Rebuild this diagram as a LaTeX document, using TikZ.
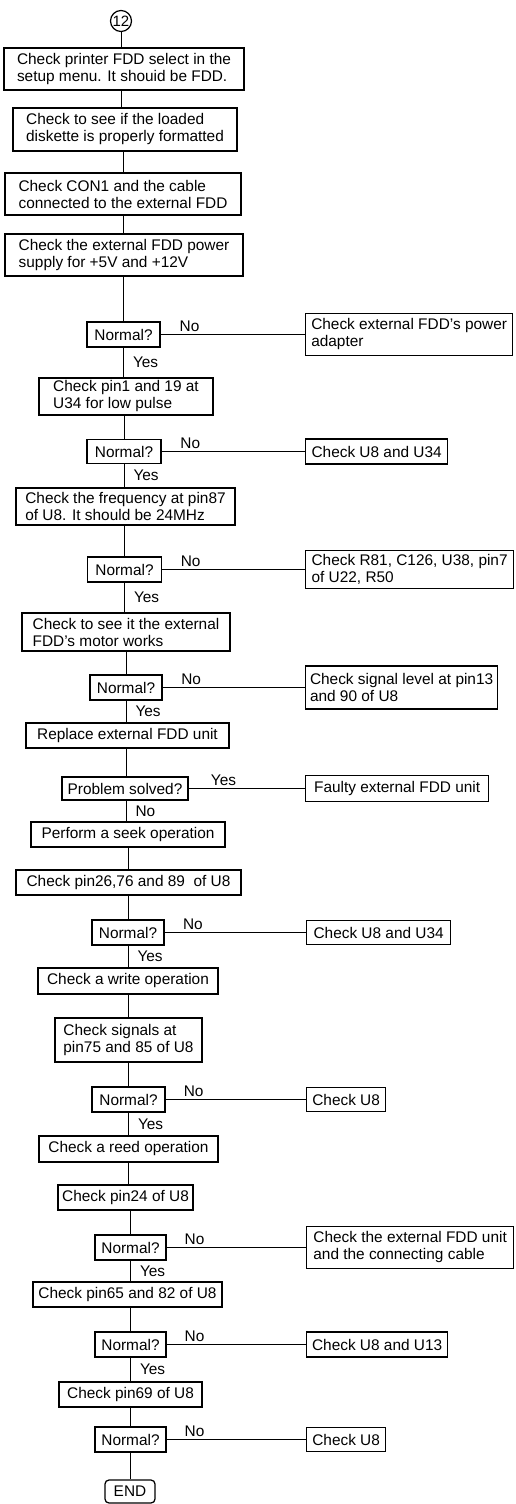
\documentclass[tikz,border=0pt]{standalone}
\usepackage{fontspec}
\setmainfont{Liberation Sans}
\newcommand\bodyfont{\fontsize{15.4}{17}\selectfont}
\begin{document}
\begin{tikzpicture}[x=1pt,y=-1pt,
  bx/.style={draw, line width=1.25pt, inner xsep=4pt, inner ysep=1pt, align=left, font=\bodyfont},
  dec/.style={bx, align=center},
  rbx/.style={bx, anchor=west},
  lbl/.style={inner sep=1pt, font=\bodyfont},
  conn/.style={line width=1pt},
  bs/.style 2 args={minimum width=#1pt, minimum height=#2pt}]
\useasboundingbox (0,0) rectangle (515,1504);
\fill[white] (0,0) rectangle (515,1504);

\node[draw, circle, line width=1.2pt, minimum size=21pt, inner sep=0pt, font=\fontsize{15}{15}\selectfont] (c12) at (121,21) {12};

\node[bx, bs={240}{42}] (b1) at (124,69) {Check printer FDD select in the\\setup menu. It shouid be FDD.};
\node[bx, bs={224}{43}] (b2) at (125,129.5) {Check to see if the loaded\\diskette is properly formatted};
\node[bx, bs={236}{42}] (b3) at (123,194) {Check CON1 and the cable\\connected to the external FDD};
\node[bx, bs={238}{42}] (b4) at (124,255) {Check the external FDD power\\supply for +5V and +12V};
\node[dec, bs={73}{25}] (N1) at (123.5,334.5) {Normal?};
\node[rbx, bs={207}{42}] (R1) at (305,334.5) {Check external FDD's power\\adapter};
\node[bx, bs={174}{37}] (b5) at (126,396.5) {Check pin1 and 19 at\\U34 for low pulse};
\node[dec, bs={74}{24}] (N2) at (124,451.5) {Normal?};
\node[rbx, bs={142}{25}] (R2) at (305,451.5) {Check U8 and U34};
\node[bx, bs={219}{37}] (b6) at (125.5,506.5) {Check the frequency at pin87\\of U8. It should be 24MHz};
\node[dec, bs={74}{25}] (N3) at (124.5,569.5) {Normal?};
\node[rbx, bs={208}{38}] (R3) at (305,569.5) {Check R81, C126, U38, pin7\\of U22, R50};
\node[bx, bs={208}{38}] (b7) at (126,632) {Check to see it the external\\FDD's motor works};
\node[dec, bs={72}{25}] (N4) at (126,687.5) {Normal?};
\node[rbx, bs={192}{43}] (R4) at (305,687.5) {Check signal level at pin13\\and 90 of U8};
\node[dec, bs={203}{25}] (b8) at (127.5,735.5) {Replace external FDD unit};
\node[dec, bs={126}{23}] (PS) at (125,788.5) {Problem solved?};
\node[rbx, bs={183}{26}] (R5) at (305,788.5) {Faulty external FDD unit};
\node[dec, bs={194}{25}] (b9) at (128,834.5) {Perform a seek operation};
\node[dec, bs={225}{25}] (b10) at (128.5,882.5) {Check pin26,76 and 89\ \ of U8};
\node[dec, bs={72}{25}] (N5) at (128,932.5) {Normal?};
\node[rbx, bs={144}{24}] (R6) at (306,932.5) {Check U8 and U34};
\node[dec, bs={180}{26}] (b11) at (128,981) {Check a write operation};
\node[bx, bs={147}{44}] (b12) at (128.5,1040) {Check signals at\\pin75 and 85 of U8};
\node[dec, bs={73}{25}] (N6) at (128.5,1099.5) {Normal?};
\node[rbx, bs={79}{24}] (R7) at (306,1099.5) {Check U8};
\node[dec, bs={179}{26}] (b13) at (128.5,1149) {Check a reed operation};
\node[dec, bs={135}{25}] (b14) at (125.5,1197.5) {Check pin24 of U8};
\node[dec, bs={71}{25}] (N7) at (130.5,1247.5) {Normal?};
\node[rbx, bs={207}{42}] (R8) at (306,1247.5) {Check the external FDD unit\\and the connecting cable};
\node[dec, bs={189}{25}] (b15) at (127.5,1294.5) {Check pin65 and 82 of U8};
\node[dec, bs={71}{25}] (N8) at (130.5,1344.5) {Normal?};
\node[rbx, bs={141}{25}] (R9) at (306,1344.5) {Check U8 and U13};
\node[dec, bs={143}{25}] (b16) at (130.5,1394.5) {Check pin69 of U8};
\node[dec, bs={71}{25}] (N9) at (130.5,1439.5) {Normal?};
\node[rbx, bs={79}{24}] (R10) at (306,1439.5) {Check U8};
\node[dec, bs={50}{23}, rounded corners=4pt] (END) at (130,1491.5) {END};

% vertical connectors
\draw[conn] (c12.south) -- (c12.south |- b1.north);
\draw[conn] (b1.south -| c12) -- (b2.north -| c12);
\draw[conn] (b2.south -| N1) -- (b3.north -| N1);
\draw[conn] (b3.south -| N1) -- (b4.north -| N1);
\draw[conn] (b4.south -| N1) -- (N1.north);
\draw[conn] (N1.south) -- (N1.south |- b5.north) node[lbl, midway, right=8pt] {Yes};
\draw[conn] (b5.south -| N2) -- (N2.north);
\draw[conn] (N2.south) -- (N2.south |- b6.north) node[lbl, midway, right=8pt] {Yes};
\draw[conn] (b6.south -| N3) -- (N3.north);
\draw[conn] (N3.south) -- (N3.south |- b7.north) node[lbl, midway, right=8pt] {Yes};
\draw[conn] (b7.south -| N4) -- (N4.north);
\draw[conn] (N4.south) -- (N4.south |- b8.north) node[lbl, midway, right=8pt] {Yes};
\draw[conn] (b8.south -| N4) -- (PS.north -| N4);
\draw[conn] (PS.south -| N4) -- (b9.north -| N4) node[lbl, midway, right=8pt] {No};
\draw[conn] (b9.south -| N5) -- (b10.north -| N5);
\draw[conn] (b10.south -| N5) -- (N5.north);
\draw[conn] (N5.south) -- (N5.south |- b11.north) node[lbl, midway, right=8pt] {Yes};
\draw[conn] (b11.south -| N5) -- (b12.north -| N5);
\draw[conn] (b12.south -| N6) -- (N6.north);
\draw[conn] (N6.south) -- (N6.south |- b13.north) node[lbl, midway, right=8pt] {Yes};
\draw[conn] (b13.south -| N6) -- (b14.north -| N6);
\draw[conn] (b14.south -| N7) -- (N7.north);
\draw[conn] (N7.south) -- (N7.south |- b15.north) node[lbl, midway, right=8pt] {Yes};
\draw[conn] (b15.south -| N8) -- (N8.north);
\draw[conn] (N8.south) -- (N8.south |- b16.north) node[lbl, midway, right=8pt] {Yes};
\draw[conn] (b16.south -| N9) -- (N9.north);
\draw[conn] (N9.south) -- (N9.south |- END.north);

% horizontal connectors
\draw[conn] (N1.east) -- (R1.west) node[lbl, pos=0.2, above=1.5pt] {No};
\draw[conn] (N2.east) -- (R2.west) node[lbl, pos=0.2, above=1.5pt] {No};
\draw[conn] (N3.east) -- (R3.west) node[lbl, pos=0.2, above=1.5pt] {No};
\draw[conn] (N4.east) -- (R4.west) node[lbl, pos=0.2, above=1.5pt] {No};
\draw[conn] (PS.east) -- (R5.west) node[lbl, pos=0.3, above=1.5pt] {Yes};
\draw[conn] (N5.east) -- (R6.west) node[lbl, pos=0.2, above=1.5pt] {No};
\draw[conn] (N6.east) -- (R7.west) node[lbl, pos=0.2, above=1.5pt] {No};
\draw[conn] (N7.east) -- (R8.west) node[lbl, pos=0.2, above=1.5pt] {No};
\draw[conn] (N8.east) -- (R9.west) node[lbl, pos=0.2, above=1.5pt] {No};
\draw[conn] (N9.east) -- (R10.west) node[lbl, pos=0.2, above=1.5pt] {No};
\end{tikzpicture}
\end{document}
